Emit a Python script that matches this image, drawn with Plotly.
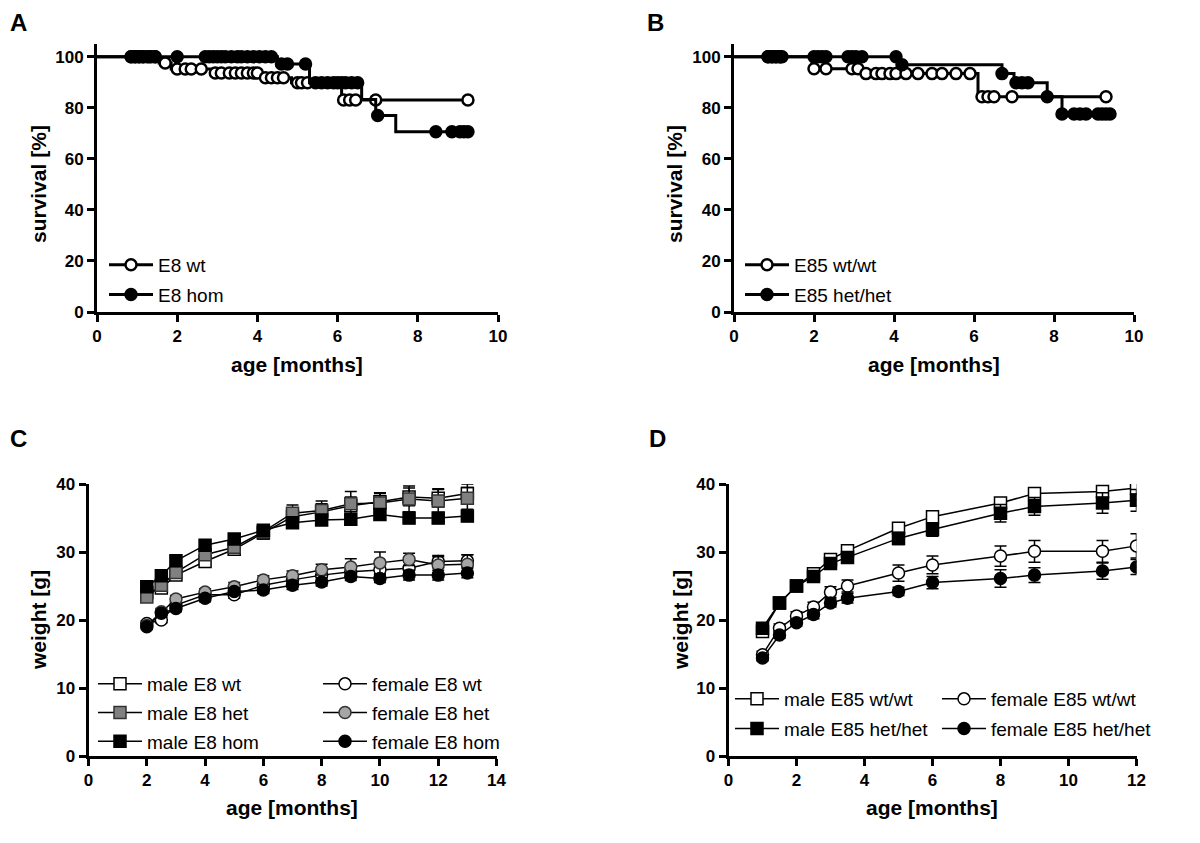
import plotly.graph_objects as go

FONT = "Liberation Sans, Arial, Helvetica, sans-serif"
W, H = 1200, 843
OFF = 8  # the page body adds an 8 px margin; positions below are given in screen pixels

# ---------------- DATA ----------------
# Panel A: survival, E8 (event times [months] and survival after each event [%])
A_wt_event_t = [1.55, 1.85, 2.85, 4.1, 4.85, 6.1]
A_wt_event_s = [97.6, 95.2, 93.6, 91.8, 89.8, 83.1]
A_wt_censor_t = [0.85, 0.95, 1.05, 1.15, 1.25, 1.35, 1.45, 1.7, 2.0, 2.2, 2.35, 2.6,
                 2.95, 3.1, 3.3, 3.45, 3.6, 3.75, 3.9, 4.0, 4.2, 4.35, 4.5, 4.65,
                 5.0, 5.1, 5.25, 6.15, 6.3, 6.45, 6.95, 9.25]
A_hom_event_t = [4.5, 5.3, 6.6, 6.95, 7.45]
A_hom_event_s = [97.2, 89.8, 83.3, 77.0, 70.6]
A_hom_censor_t = [0.85, 0.95, 1.05, 1.15, 1.3, 1.45, 2.0, 2.7, 2.8, 2.9, 3.0, 3.1, 3.2,
                  3.35, 3.5, 3.6, 3.75, 3.9, 4.05, 4.2, 4.35, 4.6, 4.75, 5.2, 5.45,
                  5.6, 5.75, 5.9, 6.0, 6.1, 6.2, 6.35, 6.5, 7.0, 8.45, 8.85, 9.05,
                  9.15, 9.25]

# Panel B: survival, E85
B_wt_event_t = [1.95, 3.2, 6.1]
B_wt_event_s = [95.3, 93.4, 84.3]
B_wt_censor_t = [0.85, 0.95, 1.05, 1.15, 2.0, 2.3, 2.95, 3.1, 3.3, 3.55, 3.7, 3.9, 4.05,
                 4.3, 4.6, 4.95, 5.2, 5.55, 5.9, 6.2, 6.35, 6.5, 6.95, 9.3]
B_hom_event_t = [4.15, 6.7, 7.0, 7.83, 8.2]
B_hom_event_s = [96.9, 93.4, 89.8, 84.3, 77.6]
B_hom_censor_t = [0.85, 0.95, 1.05, 1.15, 1.2, 2.0, 2.1, 2.2, 2.3, 2.85, 2.95, 3.05,
                  3.2, 4.05, 4.2, 6.7, 7.05, 7.2, 7.35, 7.83, 8.2, 8.5, 8.65, 8.8,
                  9.1, 9.2, 9.3, 9.4]

# Panel C: weight, E8 (mean and SEM, g)
C_age = [2, 2.5, 3, 4, 5, 6, 7, 8, 9, 10, 11, 12, 13]
C_male_wt = [24.0, 24.7, 26.6, 28.6, 30.4, 32.8, 35.2, 35.9, 36.8, 37.4, 38.1, 37.9, 38.6]
C_male_wt_err = [0.6, 0.6, 0.7, 0.7, 0.8, 0.9, 1.1, 1.2, 1.3, 1.3, 1.3, 1.3, 1.4]
C_male_het = [23.4, 25.1, 27.0, 29.6, 30.7, 33.0, 35.7, 36.1, 37.1, 37.2, 37.8, 37.5, 37.9]
C_male_het_err = [0.7, 0.7, 0.8, 0.8, 0.8, 0.9, 1.2, 1.4, 1.8, 1.4, 1.9, 1.8, 1.6]
C_male_hom = [24.9, 26.5, 28.7, 31.0, 31.9, 33.2, 34.3, 34.7, 34.8, 35.5, 35.0, 35.0, 35.3]
C_male_hom_err = [0.5, 0.5, 0.6, 0.6, 0.6, 0.7, 0.6, 0.7, 0.7, 0.7, 0.8, 0.8, 0.8]
C_female_wt = [19.5, 20.0, 22.2, 23.7, 23.7, 25.1, 25.9, 26.6, 27.1, 27.4, 27.6, 28.6, 28.7]
C_female_wt_err = [0.4, 0.4, 0.5, 0.5, 0.5, 0.6, 0.6, 0.7, 0.8, 0.8, 0.9, 0.9, 0.9]
C_female_het = [19.2, 21.2, 23.1, 24.1, 24.9, 25.9, 26.5, 27.4, 27.8, 28.4, 28.9, 28.1, 28.2]
C_female_het_err = [0.4, 0.5, 0.5, 0.5, 0.6, 0.6, 0.7, 0.8, 1.2, 1.6, 0.9, 1.2, 1.4]
C_female_hom = [19.0, 21.0, 21.7, 23.2, 24.2, 24.4, 25.1, 25.6, 26.4, 26.1, 26.6, 26.6, 26.9]
C_female_hom_err = [0.4, 0.4, 0.5, 0.5, 0.5, 0.5, 0.6, 0.6, 0.6, 0.6, 0.7, 0.7, 0.7]

# Panel D: weight, E85 (mean and SEM, g)
D_age = [1, 1.5, 2, 2.5, 3, 3.5, 5, 6, 8, 9, 11, 12]
D_male_wt = [18.3, 22.5, 25.0, 26.8, 28.9, 30.2, 33.5, 35.2, 37.2, 38.6, 38.9, 39.4]
D_male_wt_err = [0.3, 0.4, 0.4, 0.5, 0.5, 0.6, 0.6, 0.7, 0.7, 0.8, 0.7, 0.8]
D_male_hom = [18.8, 22.5, 25.0, 26.4, 28.3, 29.2, 32.0, 33.3, 35.7, 36.7, 37.2, 37.6]
D_male_hom_err = [0.4, 0.5, 0.5, 0.6, 0.6, 0.7, 0.9, 1.0, 1.3, 1.3, 1.5, 1.6]
D_female_wt = [14.9, 18.8, 20.6, 21.9, 24.1, 25.0, 26.9, 28.1, 29.4, 30.1, 30.1, 30.9]
D_female_wt_err = [0.5, 0.6, 0.6, 0.7, 0.8, 0.9, 1.2, 1.3, 1.5, 1.6, 1.6, 1.8]
D_female_hom = [14.4, 17.8, 19.6, 20.8, 22.5, 23.2, 24.2, 25.5, 26.1, 26.6, 27.2, 27.8]
D_female_hom_err = [0.4, 0.5, 0.5, 0.6, 0.6, 0.7, 0.6, 0.9, 1.3, 1.1, 1.2, 1.1]


# ---------------- HELPERS ----------------
def px(xpx):
    return (xpx - OFF) / W


def py(ypx):
    return 1 - (ypx - OFF) / H


def xd(a, b):
    return [px(a), px(b)]


def yd(top, bottom):
    return [py(bottom), py(top)]


def surv_at(t, ev_t, ev_s):
    s = 100.0
    for et, es in zip(ev_t, ev_s):
        if et <= t:
            s = es
    return s


fig = go.Figure()


def add_km(ev_t, ev_s, censor_t, name, filled, xa, ya, legend, group):
    t_end = max(censor_t)
    xs = [0] + list(ev_t) + [t_end]
    ys = [100] + list(ev_s) + [ev_s[-1]]
    fill = "black" if filled else "white"
    fig.add_trace(go.Scatter(x=xs, y=ys, mode="lines", line=dict(color="black", width=3, shape="hv"),
                             xaxis=xa, yaxis=ya, showlegend=False, legendgroup=group, hoverinfo="skip"))
    cs = [surv_at(t, ev_t, ev_s) for t in censor_t]
    fig.add_trace(go.Scatter(x=censor_t, y=cs, mode="markers",
                             marker=dict(symbol="circle", size=11, color=fill, line=dict(color="black", width=2.5)),
                             xaxis=xa, yaxis=ya, showlegend=False, legendgroup=group))
    fig.add_trace(go.Scatter(x=[None], y=[None], mode="lines+markers", name=name,
                             line=dict(color="black", width=3),
                             marker=dict(symbol="circle", size=11, color=fill, line=dict(color="black", width=2.5)),
                             xaxis=xa, yaxis=ya, legend=legend, legendgroup=group))


def add_w(x, y, err, name, symbol, fill, edge, xa, ya, legend, group):
    fig.add_trace(go.Scatter(x=x, y=y, mode="lines+markers", name=name,
                             line=dict(color="black", width=1.5),
                             marker=dict(symbol=symbol, size=12, color=fill, line=dict(color=edge, width=1.5)),
                             error_y=dict(type="data", array=err, color="black", thickness=1.5, width=6),
                             xaxis=xa, yaxis=ya, legend=legend, legendgroup=group))


# Panel A
add_km(A_wt_event_t, A_wt_event_s, A_wt_censor_t, "E8 wt", False, "x", "y", "legend", "a1")
add_km(A_hom_event_t, A_hom_event_s, A_hom_censor_t, "E8 hom", True, "x", "y", "legend", "a2")
# Panel B
add_km(B_wt_event_t, B_wt_event_s, B_wt_censor_t, "E85 wt/wt", False, "x2", "y2", "legend2", "b1")
add_km(B_hom_event_t, B_hom_event_s, B_hom_censor_t, "E85 het/het", True, "x2", "y2", "legend2", "b2")

# Panel C
add_w(C_age, C_male_wt, C_male_wt_err, "male E8 wt", "square", "white", "black", "x3", "y3", "legend3", "c1")
add_w(C_age, C_male_het, C_male_het_err, "male E8 het", "square", "#808080", "#333333", "x3", "y3", "legend3", "c2")
add_w(C_age, C_male_hom, C_male_hom_err, "male E8 hom", "square", "black", "black", "x3", "y3", "legend3", "c3")
add_w(C_age, C_female_wt, C_female_wt_err, "female E8 wt", "circle", "white", "black", "x3", "y3", "legend4", "c4")
add_w(C_age, C_female_het, C_female_het_err, "female E8 het", "circle", "#a6a6a6", "#333333", "x3", "y3", "legend4", "c5")
add_w(C_age, C_female_hom, C_female_hom_err, "female E8 hom", "circle", "black", "black", "x3", "y3", "legend4", "c6")

# Panel D
add_w(D_age, D_male_wt, D_male_wt_err, "male E85 wt/wt", "square", "white", "black", "x4", "y4", "legend5", "d1")
add_w(D_age, D_male_hom, D_male_hom_err, "male E85 het/het", "square", "black", "black", "x4", "y4", "legend5", "d2")
add_w(D_age, D_female_wt, D_female_wt_err, "female E85 wt/wt", "circle", "white", "black", "x4", "y4", "legend6", "d3")
add_w(D_age, D_female_hom, D_female_hom_err, "female E85 het/het", "circle", "black", "black", "x4", "y4", "legend6", "d4")

axis_common = dict(showline=True, linewidth=3, linecolor="black", ticks="outside", ticklen=7,
                   tickwidth=3, tickcolor="black", showgrid=False, zeroline=False, automargin=False,
                   tickfont=dict(family=FONT, size=17, color="black", weight="bold"))

leg_common = dict(font=dict(family=FONT, size=19, color="black"), bgcolor="rgba(0,0,0,0)",
                  borderwidth=0, itemwidth=44, traceorder="grouped", tracegroupgap=2,
                  xanchor="left", yanchor="top", itemclick=False, itemdoubleclick=False)


def leg(xpx, ypx, gap=2):
    d = dict(leg_common)
    d.update(x=px(xpx), y=py(ypx), tracegroupgap=gap)
    return d


def title_ann(text, xpx, ypx, angle=0):
    return dict(text=text, x=px(xpx), y=py(ypx), xref="paper", yref="paper", showarrow=False,
                textangle=angle, xanchor="center", yanchor="middle",
                font=dict(family=FONT, size=21, color="black", weight="bold"))


def letter_ann(text, xpx, ypx, anchor="middle"):
    return dict(text=text, x=px(xpx), y=py(ypx), xref="paper", yref="paper", showarrow=False,
                xanchor="center", yanchor=anchor, borderpad=0,
                font=dict(family=FONT, size=24, color="black", weight="bold"))


fig.update_layout(
    width=W, height=H, margin=dict(l=0, r=0, t=0, b=0, autoexpand=False),
    paper_bgcolor="white", plot_bgcolor="white",
    xaxis=dict(domain=xd(97, 498), range=[0, 10], dtick=2, anchor="y", **axis_common),
    yaxis=dict(domain=yd(44, 312), range=[0, 105], tickvals=[0, 20, 40, 60, 80, 100], anchor="x", **axis_common),
    xaxis2=dict(domain=xd(734, 1134), range=[0, 10], dtick=2, anchor="y2", **axis_common),
    yaxis2=dict(domain=yd(44, 312), range=[0, 105], tickvals=[0, 20, 40, 60, 80, 100], anchor="x2", **axis_common),
    xaxis3=dict(domain=xd(88.5, 496.5), range=[0, 14], dtick=2, anchor="y3", **axis_common),
    yaxis3=dict(domain=yd(484, 756), range=[0, 40], dtick=10, anchor="x3", **axis_common),
    xaxis4=dict(domain=xd(728.5, 1136.5), range=[0, 12], dtick=2, anchor="y4", **axis_common),
    yaxis4=dict(domain=yd(484, 756), range=[0, 40], dtick=10, anchor="x4", **axis_common),
    legend=leg(104, 246),
    legend2=leg(740, 246),
    legend3=leg(93, 665, 1),
    legend4=leg(318, 665, 1),
    legend5=leg(730, 680),
    legend6=leg(937, 680),
    annotations=[
        letter_ann("A", 18, 8, "top"), letter_ann("B", 655, 8, "top"),
        letter_ann("C", 18, 438), letter_ann("D", 657, 438),
        title_ann("age [months]", 297, 364), title_ann("age [months]", 934, 364),
        title_ann("survival [%]", 38, 184, -90), title_ann("survival [%]", 674, 184, -90),
        title_ann("age [months]", 292, 807), title_ann("age [months]", 932, 807),
        title_ann("weight [g]", 38, 620, -90), title_ann("weight [g]", 680, 620, -90),
    ],
    showlegend=True,
)

fig.write_html("out.html")
